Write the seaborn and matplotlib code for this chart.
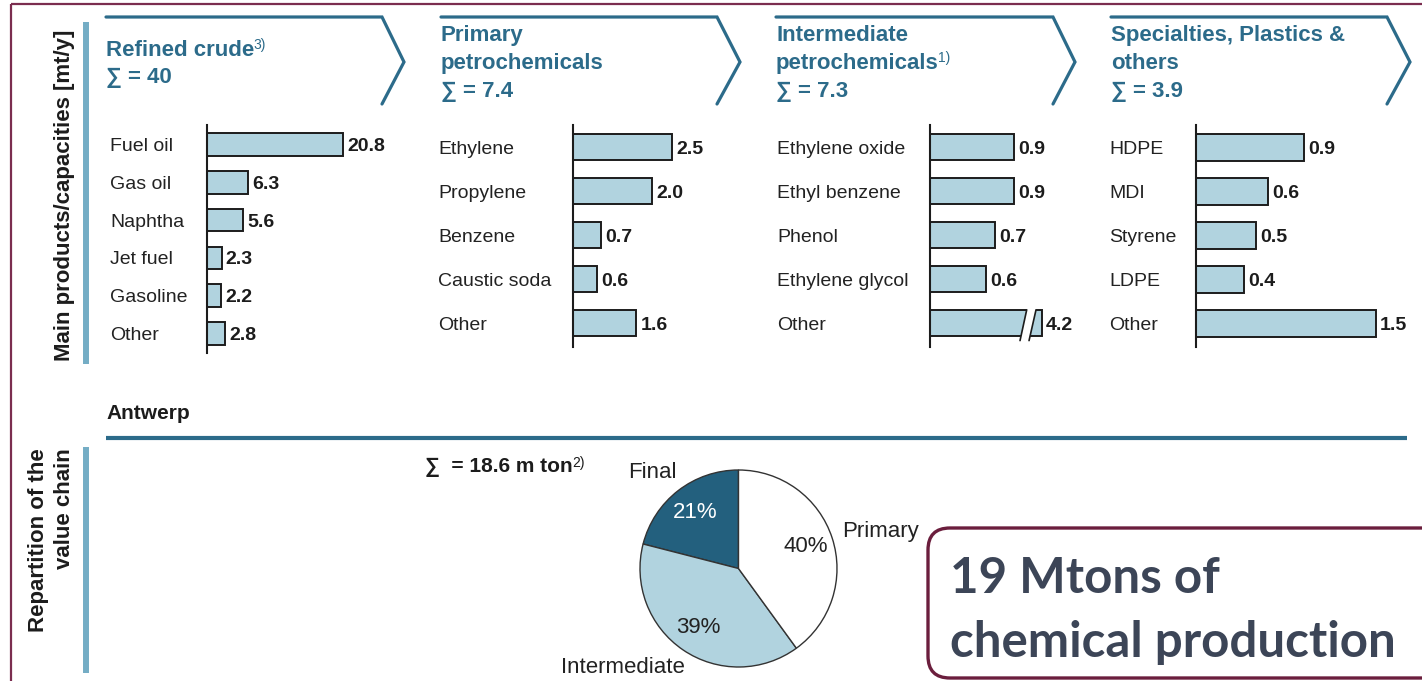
import matplotlib
matplotlib.use("Agg")
import matplotlib.pyplot as plt
import seaborn as sns
import pandas as pd
from matplotlib.patches import FancyBboxPatch, Polygon
from matplotlib.transforms import blended_transform_factory

# --- data -------------------------------------------------------------
refined_labels = ["Fuel oil", "Gas oil", "Naphtha", "Jet fuel", "Gasoline", "Other"]
refined_values = [20.8, 6.3, 5.6, 2.3, 2.2, 2.8]

primary_labels = ["Ethylene", "Propylene", "Benzene", "Caustic soda", "Other"]
primary_values = [2.5, 2.0, 0.7, 0.6, 1.6]

intermediate_labels = ["Ethylene oxide", "Ethyl benzene", "Phenol", "Ethylene glycol", "Other"]
intermediate_values = [0.9, 0.9, 0.7, 0.6, 4.2]

specialties_labels = ["HDPE", "MDI", "Styrene", "LDPE", "Other"]
specialties_values = [0.9, 0.6, 0.5, 0.4, 1.5]

headers = [
    (["Refined crude", "∑ = 40"], 0, "3)"),
    (["Primary", "petrochemicals", "∑ = 7.4"], None, None),
    (["Intermediate", "petrochemicals", "∑ = 7.3"], 1, "1)"),
    (["Specialties, Plastics &", "others", "∑ = 3.9"], None, None),
]

pie_labels = ["Final", "Intermediate", "Primary"]
pie_values = [21, 39, 40]
pie_total = "∑  = 18.6 m ton"

# --- style ------------------------------------------------------------
W, H = 1422, 681
teal = "#2c6b8a"
light_teal = "#74adc5"
bar_color = "#b1d3df"
maroon = "#7b2d4f"
ink = "#1c1c1c"

sns.set_theme(style="white")
plt.rcParams["font.family"] = ["Liberation Sans", "DejaVu Sans"]

fig = plt.figure(figsize=(14.22, 6.81), dpi=100)
fig.patch.set_facecolor("white")


def axes_px(x0, y0, x1, y1):
    return fig.add_axes([x0 / W, 1 - y1 / H, (x1 - x0) / W, (y1 - y0) / H])


deco = fig.add_axes([0, 0, 1, 1])
deco.set_xlim(0, W)
deco.set_ylim(H, 0)
deco.axis("off")

# frame
deco.plot([11, W], [4, 4], color=maroon, lw=1.6, solid_capstyle="butt")
deco.plot([11, 11], [4, H], color=maroon, lw=1.6, solid_capstyle="butt")

# left side labels and bars
deco.plot([85.5, 85.5], [22, 364], color=light_teal, lw=4.3, solid_capstyle="butt")
deco.plot([85.5, 85.5], [447, 673], color=light_teal, lw=4.3, solid_capstyle="butt")
deco.text(65, 195.5, "Main products/capacities [mt/y]", rotation=90, ha="center",
          va="center", fontsize=16, fontweight="bold", color=ink)
deco.text(39, 448, "Repartition of the", rotation=90, ha="center", va="top",
          fontsize=16, fontweight="bold", color=ink)
deco.text(65, 448, "value chain", rotation=90, ha="center", va="top",
          fontsize=16, fontweight="bold", color=ink)

# chevron headers
chevrons = [(106, 382, 404), (441, 717, 740), (776, 1053, 1075), (1111, 1387, 1410)]
for (x0, x1, xp), (lines, sup_line, sup) in zip(chevrons, headers):
    deco.plot([x0, x1, xp, x1], [17, 17, 62, 104], color=teal, lw=2.3,
              solid_joinstyle="miter")
    if len(lines) == 2:
        bases = [56, 83]
    else:
        bases = [41, 69, 97]
    for k, (line, yb) in enumerate(zip(lines, bases)):
        t = deco.text(x0, yb, line, ha="left", va="baseline", fontsize=16,
                      fontweight="bold", color=teal)
        if sup_line == k:
            deco.annotate(sup, xy=(1, 1), xycoords=t, xytext=(-0.8, 1.5),
                          textcoords="offset points", ha="left", va="top",
                          fontsize=10, color=teal)

# bar panels
panels = [
    dict(labels=refined_labels, values=refined_values, axis_x=206.5, ppu=6.57,
         first=144.5, step=37.8, top=125, bottom=353, label_x=110, cap=None),
    dict(labels=primary_labels, values=primary_values, axis_x=573, ppu=39.5,
         first=147, step=44, top=125, bottom=347, label_x=438, cap=None),
    dict(labels=intermediate_labels, values=intermediate_values, axis_x=930, ppu=93,
         first=147, step=44, top=125, bottom=347, label_x=777, cap=1.2),
    dict(labels=specialties_labels, values=specialties_values, axis_x=1196, ppu=120,
         first=147.5, step=44, top=125, bottom=347, label_x=1109, cap=None),
]

for p in panels:
    ax = axes_px(p["axis_x"], p["top"], p["axis_x"] + 200, p["bottom"])
    ax.patch.set_alpha(0)
    cap = p["cap"]
    shown = [min(v, cap) if cap else v for v in p["values"]]
    df = pd.DataFrame({"product": p["labels"], "value": shown})
    sns.barplot(data=df, x="value", y="product", ax=ax, color=bar_color,
                saturation=1, edgecolor=ink, linewidth=1.4, width=0.6, orient="h")
    ax.set_xlim(0, 200 / p["ppu"])
    ax.set_ylim((p["bottom"] - p["first"]) / p["step"], (p["top"] - p["first"]) / p["step"])
    ax.set_xticks([])
    ax.set_yticks([])
    ax.set_xlabel("")
    ax.set_ylabel("")
    for s in ["top", "right", "bottom"]:
        ax.spines[s].set_visible(False)
    ax.spines["left"].set_color(ink)
    ax.spines["left"].set_linewidth(1.5)
    vals = ax.bar_label(ax.containers[0], labels=[f"{v:.1f}" for v in p["values"]],
                        padding=3, fontsize=14, fontweight="bold", color=ink)
    for a in vals:
        a.set_va("center_baseline")
    tr = blended_transform_factory(fig.transFigure, ax.transData)
    for i, lab in enumerate(p["labels"]):
        ax.text(p["label_x"] / W, i, lab, transform=tr, ha="left", va="center_baseline",
                fontsize=14, color="#222222")
    # axis break on clipped bars
    if cap:
        for i, v in enumerate(p["values"]):
            if v <= cap:
                continue
            s1 = (cap - 0.232, cap - 0.16)
            s2 = (cap - 0.135, cap - 0.06)
            yb, yt = i + 0.4, i - 0.3

            def xat(s, y):
                return s[0] + (s[1] - s[0]) * (yb - y) / (yb - yt)

            gap = Polygon([(xat(s1, i + 0.33), i + 0.33), (xat(s1, i - 0.33), i - 0.33),
                           (xat(s2, i - 0.33), i - 0.33), (xat(s2, i + 0.33), i + 0.33)],
                          closed=True, facecolor="white", edgecolor="none", zorder=5)
            ax.add_patch(gap)
            for s in (s1, s2):
                ax.plot([s[0], s[1]], [yb, yt], color=ink, lw=1.2, zorder=6)

# Antwerp section
deco.text(106, 419, "Antwerp", ha="left", va="baseline", fontsize=15,
          fontweight="bold", color=ink)
deco.plot([106, 1407], [438, 438], color=teal, lw=3, solid_capstyle="butt")

t = deco.text(425, 472, pie_total, ha="left", va="baseline", fontsize=15,
              fontweight="bold", color=ink)
deco.annotate("2)", xy=(1, 1), xycoords=t, xytext=(-0.5, 1.5), textcoords="offset points",
              ha="left", va="top", fontsize=10, color=ink)

# pie
cx, cy, r = 738.5, 568.5, 98.5
m = 1.03
pax = axes_px(cx - r * m, cy - r * m, cx + r * m, cy + r * m)
wedges, _, autotexts = pax.pie(pie_values, colors=["#23607e", bar_color, "white"],
                               startangle=90, counterclock=True,
                               wedgeprops=dict(edgecolor="#333333", linewidth=1),
                               autopct="%.0f%%", pctdistance=0.72,
                               textprops=dict(fontsize=16, color="#222222"))
autotexts[0].set_color("white")
pax.set_xlim(-m, m)
pax.set_ylim(-m, m)
label_pos = [(-0.87, 0.97), (-1.17, -1.01), (1.44, 0.38)]
for lab, (lx, ly) in zip(pie_labels, label_pos):
    pax.text(lx, ly, lab, ha="center", va="center", fontsize=16, color="#222222")

# callout box
box = FancyBboxPatch((928, 528), 540, 150, boxstyle="round,pad=0,rounding_size=22",
                     edgecolor="#6b1e3d", facecolor="white", lw=2.4)
deco.add_patch(box)
bt1 = deco.text(950, 593, "19 Mtons of", ha="left", va="baseline", fontsize=36,
                fontweight="bold", color="#3c4557", family=["Lato", "DejaVu Sans"])
bt2 = deco.text(950, 657, "chemical production", ha="left", va="baseline", fontsize=36,
                fontweight="bold", color="#3c4557", family=["Lato", "DejaVu Sans"])
fig.canvas.draw()
w = bt2.get_window_extent().width
size = 36 * 445 / w
bt1.set_fontsize(size)
bt2.set_fontsize(size)

fig.savefig("out.png", dpi=100, facecolor="white")
